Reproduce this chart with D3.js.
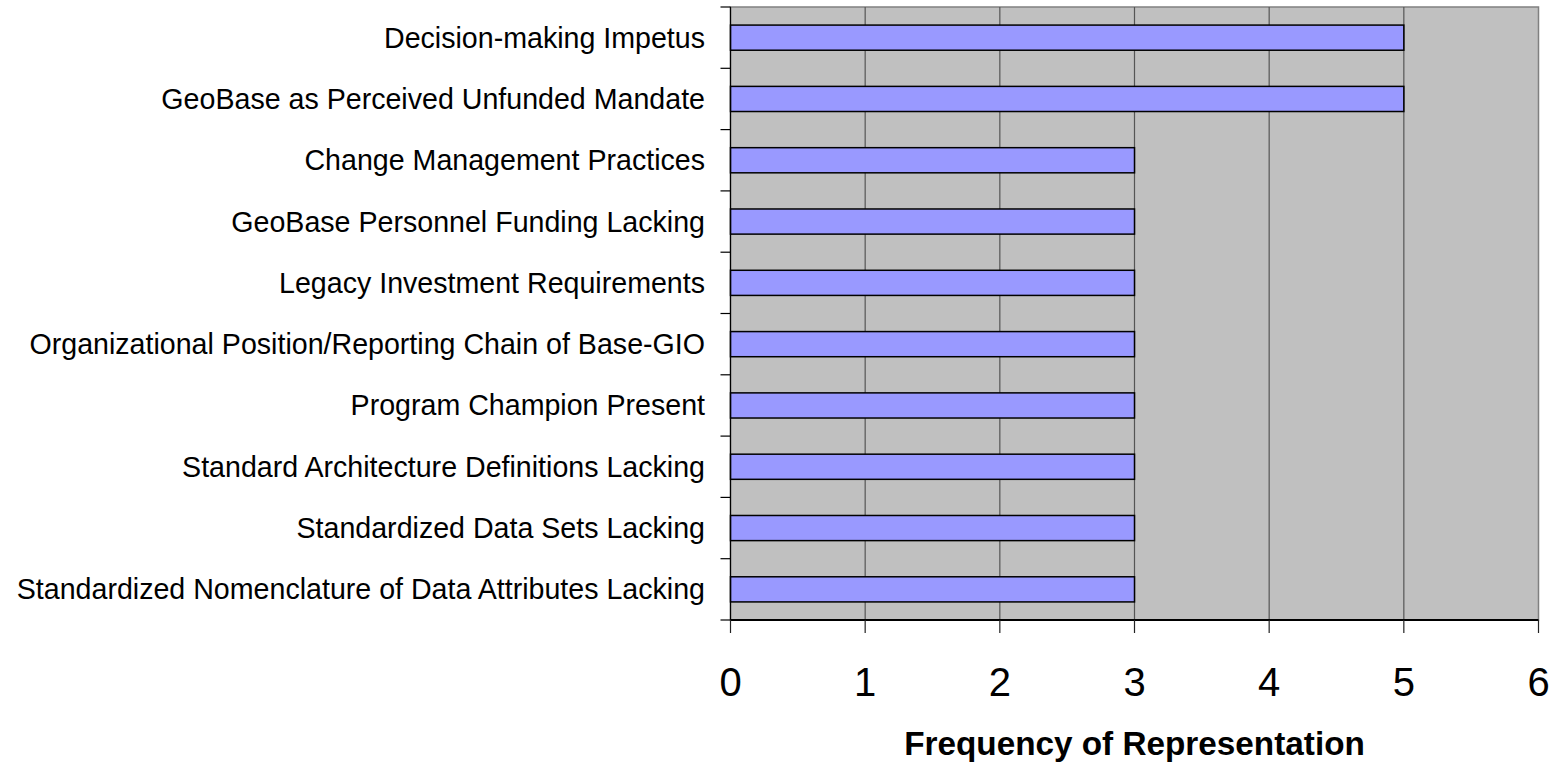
<!DOCTYPE html>
<html>
<head>
<meta charset="utf-8">
<script src="https://cdn.jsdelivr.net/npm/d3@7"></script>
<style>
  html, body { margin: 0; padding: 0; background: #fff; }
  svg { display: block; }
  text { font-family: Arial, "Liberation Sans", sans-serif; fill: #000; }
</style>
</head>
<body>
<svg id="chart" width="1562" height="763"></svg>
<script>
const categories = [
  "Decision-making Impetus",
  "GeoBase as Perceived Unfunded Mandate",
  "Change Management Practices",
  "GeoBase Personnel Funding Lacking",
  "Legacy Investment Requirements",
  "Organizational Position/Reporting Chain of Base-GIO",
  "Program Champion Present",
  "Standard Architecture Definitions Lacking",
  "Standardized Data Sets Lacking",
  "Standardized Nomenclature of Data Attributes Lacking"
];
const values = [5, 5, 3, 3, 3, 3, 3, 3, 3, 3];
const xTicks = [0, 1, 2, 3, 4, 5, 6];
const xTitle = "Frequency of Representation";

const svg = d3.select("#chart");
const pLeft = 730.5, pRight = 1538.5, pTop = 7, pBottom = 620;

const x = d3.scaleLinear().domain([0, 6]).range([pLeft, pRight]);
const y = d3.scaleBand().domain(categories).range([pTop, pBottom]).paddingInner(0.59).paddingOuter(0.295);
const yb = d3.scaleLinear().domain([0, categories.length]).range([pTop, pBottom]);

// plot background
svg.append("rect").attr("x", pLeft).attr("y", pTop).attr("width", pRight - pLeft).attr("height", pBottom - pTop)
  .attr("fill", "#C0C0C0").attr("stroke", "#808080").attr("stroke-width", 1.5);

// gridlines
svg.append("g").selectAll("line").data(xTicks.filter(d => d > 0 && d < 6)).join("line")
  .attr("x1", d => x(d)).attr("x2", d => x(d)).attr("y1", pTop).attr("y2", pBottom)
  .attr("stroke", "#555").attr("stroke-width", 1.2);

// bars
svg.append("g").selectAll("rect").data(categories).join("rect")
  .attr("x", x(0)).attr("y", d => y(d))
  .attr("width", (d, i) => x(values[i]) - x(0)).attr("height", y.bandwidth())
  .attr("fill", "#9999FF").attr("stroke", "#000").attr("stroke-width", 1.5);

// left axis line and ticks
svg.append("line").attr("x1", pLeft).attr("x2", pLeft).attr("y1", pTop).attr("y2", pBottom)
  .attr("stroke", "#000").attr("stroke-width", 1.2);
svg.append("g").selectAll("line").data(d3.range(categories.length + 1)).join("line")
  .attr("x1", pLeft - 10).attr("x2", pLeft).attr("y1", d => yb(d)).attr("y2", d => yb(d))
  .attr("stroke", "#000").attr("stroke-width", 1.2);

// category labels
svg.append("g").selectAll("text").data(categories).join("text")
  .attr("x", 705).attr("y", d => y(d) + y.bandwidth() / 2 + 10)
  .attr("text-anchor", "end").attr("font-size", 28.6).text(d => d);

// bottom axis
svg.append("line").attr("x1", pLeft).attr("x2", pRight).attr("y1", pBottom).attr("y2", pBottom)
  .attr("stroke", "#000").attr("stroke-width", 2);
svg.append("g").selectAll("line").data(xTicks).join("line")
  .attr("x1", d => x(d)).attr("x2", d => x(d)).attr("y1", pBottom).attr("y2", pBottom + 13)
  .attr("stroke", "#222").attr("stroke-width", 1.2);
svg.append("g").selectAll("text").data(xTicks).join("text")
  .attr("x", d => x(d)).attr("y", 696).attr("text-anchor", "middle")
  .attr("font-size", 40).text(d => d);

svg.append("text").attr("x", (pLeft + pRight) / 2).attr("y", 755).attr("text-anchor", "middle")
  .attr("font-size", 33.3).attr("font-weight", "bold").text(xTitle);
</script>
</body>
</html>
